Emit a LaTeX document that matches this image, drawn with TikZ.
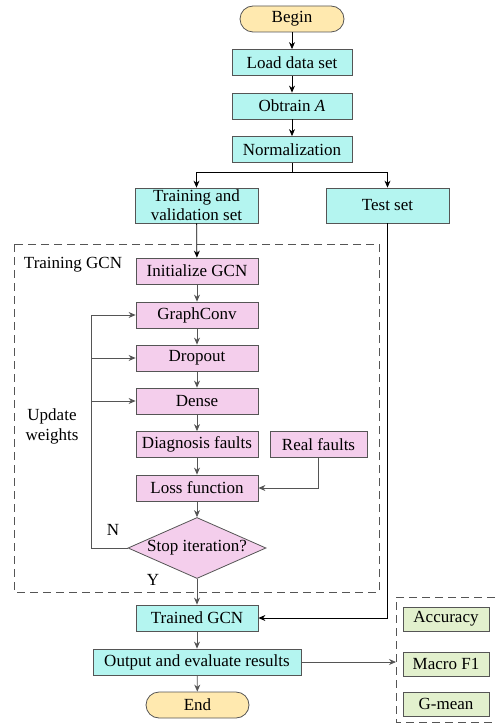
\documentclass[tikz,border=0pt]{standalone}
\usepackage{fontspec}
\setmainfont{Liberation Serif}
\usetikzlibrary{arrows.meta,shapes.geometric}
\definecolor{cyanfill}{RGB}{180,245,240}
\definecolor{pinkfill}{RGB}{244,206,236}
\definecolor{yelfill}{RGB}{255,233,175}
\definecolor{greenfill}{RGB}{226,240,205}
\definecolor{edgegray}{RGB}{85,85,85}
\tikzset{
  base/.style={draw=edgegray, line width=0.8pt, inner sep=0pt, minimum height=26pt, font=\fontsize{17}{20}\selectfont, align=center},
  cbox/.style={base, fill=cyanfill},
  pbox/.style={base, fill=pinkfill, minimum width=122pt},
  gbox/.style={base, fill=greenfill, minimum width=86pt, minimum height=24pt},
  pill/.style={base, fill=yelfill, rounded corners=13pt, minimum width=104pt},
  arr/.style={line width=0.8pt, -{Stealth[length=7pt,width=6pt]}},
  garr/.style={arr, draw=edgegray},
  dbox/.style={draw=edgegray, line width=0.8pt, dash pattern=on 8pt off 5pt},
  lbl/.style={inner sep=0pt, font=\fontsize{17}{20}\selectfont, align=center}
}
\begin{document}
\begin{tikzpicture}[x=1pt,y=-1pt]
\useasboundingbox (0,0) rectangle (495,727);
% top flow
\node[pill] (begin) at (292,19) {Begin};
\node[cbox, minimum width=120pt] (load) at (292,62.5) {Load data set};
\node[cbox, minimum width=120pt] (obt) at (292,106) {Obtrain \textit{A}};
\node[cbox, minimum width=120pt] (norm) at (292,149.5) {Normalization};
\node[cbox, minimum width=123pt, minimum height=35pt] (trainval) at (196.5,205.5) {Training and\\[-1pt]validation set};
\node[cbox, minimum width=123pt, minimum height=35pt] (testset) at (387.5,205.5) {Test set};
\coordinate (split) at (292,172);
\draw[arr] (begin) -- (load);
\draw[arr] (load) -- (obt);
\draw[arr] (obt) -- (norm);
\draw[arr] (norm.south) -- (split) -| (trainval.north);
\draw[arr] (split) -| (testset.north);
% training GCN region
\draw[dbox] (14,244) rectangle (379,592);
\node[lbl] (tgcn) at (73,265) {Training GCN};
\node[pbox] (init) at (197,271) {Initialize GCN};
\node[pbox] (gconv) at (197,315) {GraphConv};
\node[pbox] (drop) at (197,358) {Dropout};
\node[pbox] (dense) at (197,401) {Dense};
\node[pbox] (diag) at (197,444.5) {Diagnosis faults};
\node[pbox, minimum width=97pt] (real) at (318.5,444.5) {Real faults};
\node[pbox] (loss) at (197,488) {Loss function};
\node[base, fill=pinkfill, diamond, shape aspect=2.26, minimum width=138pt, minimum height=61pt] (stop) at (197,548) {\makebox[0pt]{Stop iteration?}};
\node[lbl] (nlab) at (113,530) {N};
\node[lbl] (ylab) at (153,580) {Y};
\node[lbl] (upd) at (52,426) {Update\\weights};
\draw[arr] (trainval) -- (init);
\draw[garr] (init) -- (gconv);
\draw[garr] (gconv) -- (drop);
\draw[garr] (drop) -- (dense);
\draw[garr] (dense) -- (diag);
\draw[garr] (diag) -- (loss);
\draw[garr] (loss) -- (stop);
\draw[garr] (real.south) |- (loss.east);
\coordinate (fb0) at (91,548);
\coordinate (fb2) at (91,358);
\coordinate (fb3) at (91,401);
\draw[garr] (stop.west) -- (fb0) |- (gconv.west);
\draw[garr] (fb2) -- (drop.west);
\draw[garr] (fb3) -- (dense.west);
% bottom flow
\node[cbox, minimum width=122pt] (trained) at (197,618) {Trained GCN};
\node[cbox, minimum width=208pt] (output) at (197,662) {Output and evaluate results};
\node[pill, minimum width=103pt] (endn) at (197.5,705) {End};
\draw[garr] (stop.south) -- (trained.north);
\draw[arr] (testset.south) |- (trained.east);
\draw[garr] (trained) -- (output);
\draw[garr] (output) -- (endn);
% metrics
\coordinate (mtl) at (396,662);
\draw[dbox] (495,597) -- (396,597) -- (396,722) -- (495,722);
\draw[garr] (output.east) -- (mtl);
\node[gbox] (acc) at (446,619) {Accuracy};
\node[gbox] (macro) at (446,664) {Macro F1};
\node[gbox] (gmean) at (446,704) {G-mean};
\end{tikzpicture}
\end{document}
